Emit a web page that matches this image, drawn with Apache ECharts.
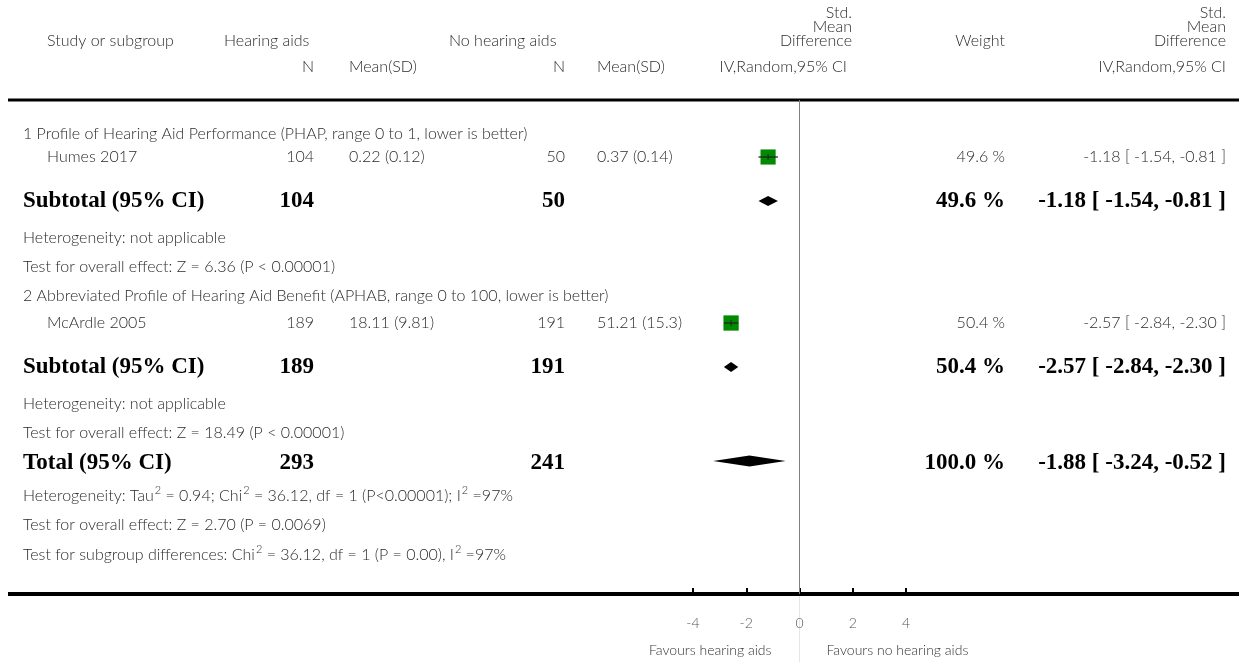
<!DOCTYPE html>
<html>
<head>
<meta charset="utf-8">
<script src="https://cdn.jsdelivr.net/npm/echarts@6/dist/echarts.min.js"></script>
<style>
html,body{margin:0;padding:0;background:#fff;}
#chart{width:1239px;height:662px;}
</style>
</head>
<body>
<div id="chart"></div>
<script>
// ---------------- DATA ----------------
const studies = ['Humes 2017', 'McArdle 2005'];
const subgroups = [
  '1 Profile of Hearing Aid Performance (PHAP, range 0 to 1, lower is better)',
  '2 Abbreviated Profile of Hearing Aid Benefit (APHAB, range 0 to 100, lower is better)'
];
const haN = [104, 189];
const haMeanSD = ['0.22 (0.12)', '18.11 (9.81)'];
const noN = [50, 191];
const noMeanSD = ['0.37 (0.14)', '51.21 (15.3)'];
const smd = [-1.18, -2.57];
const ciLow = [-1.54, -2.84];
const ciHigh = [-0.81, -2.30];
const weights = [49.6, 50.4];
const subSmd = [-1.18, -2.57];
const subLow = [-1.54, -2.84];
const subHigh = [-0.81, -2.30];
const subWeights = [49.6, 50.4];
const totalHaN = 293;
const totalNoN = 241;
const totalSmd = -1.88;
const totalLow = -3.24;
const totalHigh = -0.52;
const totalWeight = 100.0;
const subHetText = ['Heterogeneity: not applicable', 'Heterogeneity: not applicable'];
const subEffectText = ['Test for overall effect: Z = 6.36 (P < 0.00001)', 'Test for overall effect: Z = 18.49 (P < 0.00001)'];
// ^ marks a superscript "2"
const totalHetText = 'Heterogeneity: Tau^ = 0.94; Chi^ = 36.12, df = 1 (P<0.00001); I^ =97%';
const totalEffectText = 'Test for overall effect: Z = 2.70 (P = 0.0069)';
const subgroupDiffText = 'Test for subgroup differences: Chi^ = 36.12, df = 1 (P = 0.00), I^ =97%';
const xTicks = [-4, -2, 0, 2, 4];
const favoursLeft = 'Favours hearing aids';
const favoursRight = 'Favours no hearing aids';

// ---------------- LAYOUT ----------------
const W = 1239, H = 662;
const topLine = 100, axisY = 594;
const plotLeft = 693, plotRight = 906;
const rowsY = {
  g0: 134, s0: 157, sub0: 201, het0: 238, eff0: 267,
  g1: 296, s1: 323, sub1: 367, het1: 404, eff1: 433,
  tot: 463, totHet: 496, totEff: 525, subDiff: 555
};
const NF = 'Lato';
const normFont = '300 16px Lato';
const boldFont = 'bold 23px "Liberation Serif"';
const txtCol = '#2b2b2b';
const col = {group: 23, study: 47, haN: 314, haMean: 349, noN: 565, noMean: 597, weight: 1005, eff: 1226, plotHead: 852};

function fmt2(v){ return (v<0?'-':'') + Math.abs(v).toFixed(2); }
function ciText(m,l,h){ return fmt2(m) + ' [ ' + fmt2(l) + ', ' + fmt2(h) + ' ]'; }

const texts = [];
function T(text, x, y, align, font, fill){
  texts.push({type:'text', x:x, y:y, silent:true, style:{text:text, font:font||normFont, fill:fill||txtCol, align:align||'left', verticalAlign:'middle'}});
}
function TS(text, x, y){
  const parts = text.split('^');
  let rich = '';
  parts.forEach(function(p, i){
    rich += '{n|' + p + '}';
    if (i < parts.length - 1) rich += '{s|2}';
  });
  texts.push({type:'text', x:x, y:y - 2, silent:true, style:{text:rich, align:'left', verticalAlign:'middle',
    rich:{
      n:{fontFamily:NF, fontWeight:300, fontSize:16, fill:txtCol, lineHeight:20, verticalAlign:'bottom'},
      s:{fontFamily:NF, fontWeight:300, fontSize:11, fill:txtCol, lineHeight:20, verticalAlign:'top', padding:[1,0,0,1]}
    }}});
}
// header
T('Study or subgroup', col.study, 41);
T('Hearing aids', 224, 41);
T('No hearing aids', 449, 41);
T('N', col.haN, 67, 'right');
T('Mean(SD)', col.haMean, 67);
T('N', col.noN, 67, 'right');
T('Mean(SD)', col.noMean, 67);
T('Std.', col.plotHead, 13, 'right');
T('Mean', col.plotHead, 27, 'right');
T('Difference', col.plotHead, 41, 'right');
T('IV,Random,95% CI', 847, 67, 'right');
T('Weight', col.weight, 41, 'right');
T('Std.', col.eff, 13, 'right');
T('Mean', col.eff, 27, 'right');
T('Difference', col.eff, 41, 'right');
T('IV,Random,95% CI', col.eff, 67, 'right');

for (let i = 0; i < studies.length; i++) {
  T(subgroups[i], col.group, rowsY['g'+i]);
  const y = rowsY['s'+i];
  T(studies[i], col.study, y);
  T(String(haN[i]), col.haN, y, 'right');
  T(haMeanSD[i], col.haMean, y);
  T(String(noN[i]), col.noN, y, 'right');
  T(noMeanSD[i], col.noMean, y);
  T(weights[i].toFixed(1) + ' %', col.weight, y, 'right');
  T(ciText(smd[i], ciLow[i], ciHigh[i]), col.eff, y, 'right');
  const ys = rowsY['sub'+i];
  T('Subtotal (95% CI)', col.group, ys, 'left', boldFont, '#000');
  T(String(haN[i]), col.haN, ys, 'right', boldFont, '#000');
  T(String(noN[i]), col.noN, ys, 'right', boldFont, '#000');
  T(subWeights[i].toFixed(1) + ' %', col.weight, ys, 'right', boldFont, '#000');
  T(ciText(subSmd[i], subLow[i], subHigh[i]), col.eff, ys, 'right', boldFont, '#000');
  T(subHetText[i], col.group, rowsY['het'+i]);
  T(subEffectText[i], col.group, rowsY['eff'+i]);
}
T('Total (95% CI)', col.group, rowsY.tot, 'left', boldFont, '#000');
T(String(totalHaN), col.haN, rowsY.tot, 'right', boldFont, '#000');
T(String(totalNoN), col.noN, rowsY.tot, 'right', boldFont, '#000');
T(totalWeight.toFixed(1) + ' %', col.weight, rowsY.tot, 'right', boldFont, '#000');
T(ciText(totalSmd, totalLow, totalHigh), col.eff, rowsY.tot, 'right', boldFont, '#000');
TS(totalHetText, col.group, rowsY.totHet);
T(totalEffectText, col.group, rowsY.totEff);
TS(subgroupDiffText, col.group, rowsY.subDiff);

// rules
const rules = [
  {type:'line', silent:true, shape:{x1:8, y1:topLine, x2:W, y2:topLine}, style:{stroke:'#000', lineWidth:3}},
  {type:'line', silent:true, shape:{x1:8, y1:axisY, x2:W, y2:axisY}, style:{stroke:'#000', lineWidth:4}}
];

// series data
const studyData = studies.map((s,i)=>[smd[i], ciLow[i], ciHigh[i], weights[i], rowsY['s'+i]-topLine]);
const diamondData = subSmd.map((m,i)=>[m, subLow[i], subHigh[i], 10, rowsY['sub'+i]-topLine]);
diamondData.push([totalSmd, totalLow, totalHigh, 11, rowsY.tot - 2 - topLine]);

const chart = echarts.init(document.getElementById('chart'), null, {renderer:'canvas'});
chart.setOption({
  animation:false,
  backgroundColor:'#fff',
  grid:{left:plotLeft, right:W-plotRight, top:topLine, bottom:H-axisY, containLabel:false},
  xAxis:{type:'value', position:'bottom', min:-4, max:4, interval:2,
    axisLine:{show:false, onZero:false},
    axisTick:{show:true, inside:true, length:6, lineStyle:{color:'#000', width:2}},
    axisLabel:{show:true, margin:22, color:'#555', fontFamily:NF, fontWeight:300, fontSize:14,
      formatter:function(v){ return xTicks.indexOf(v)>=0 ? String(v) : ''; }},
    splitLine:{show:false}},
  yAxis:{type:'value', inverse:true, min:0, max:axisY-topLine, show:false, splitLine:{show:false}},
  graphic:{elements: rules.concat(texts)},
  series:[
    {type:'custom', name:'studies', data:studyData, clip:false,
      renderItem:function(params, api){
        const yv = api.value(4);
        const m = api.coord([api.value(0), yv]);
        const l = api.coord([api.value(1), yv]);
        const h = api.coord([api.value(2), yv]);
        const s = Math.sqrt(api.value(3)) * 2.15;
        return {type:'group', children:[
          {type:'rect', shape:{x:m[0]-s/2, y:m[1]-s/2, width:s, height:s}, style:{fill:'#008a00'}},
          {type:'line', shape:{x1:l[0], y1:m[1], x2:h[0], y2:m[1]}, style:{stroke:'#222', lineWidth:1.3}},
          {type:'line', shape:{x1:m[0], y1:m[1]-3, x2:m[0], y2:m[1]+3}, style:{stroke:'#222', lineWidth:1}}
        ]};
      },
      markLine:{silent:true, symbol:'none', label:{show:false}, animation:false,
        lineStyle:{color:'#808080', width:1, type:'solid'}, data:[{xAxis:0}]}
    },
    {type:'custom', name:'diamonds', data:diamondData, clip:false,
      renderItem:function(params, api){
        const yv = api.value(4);
        const m = api.coord([api.value(0), yv]);
        const l = api.coord([api.value(1), yv]);
        const h = api.coord([api.value(2), yv]);
        const hh = api.value(3)/2;
        return {type:'polygon', shape:{points:[[l[0],m[1]],[m[0],m[1]-hh],[h[0],m[1]],[m[0],m[1]+hh]]}, style:{fill:'#000'}};
      }
    }
  ]
});
// favours labels and faint zero-line extension, placed from the axis scale
const zx = chart.convertToPixel({xAxisIndex:0}, 0);
chart.setOption({graphic:{elements: rules.concat(texts).concat([
  {type:'line', silent:true, shape:{x1:zx, y1:axisY+2, x2:zx, y2:H}, style:{stroke:'#e6e6e6', lineWidth:1}},
  {type:'text', x:zx-28, y:650, silent:true, style:{text:favoursLeft, font:'300 14px Lato', fill:'#333', align:'right', verticalAlign:'middle'}},
  {type:'text', x:zx+27, y:650, silent:true, style:{text:favoursRight, font:'300 14px Lato', fill:'#333', align:'left', verticalAlign:'middle'}}
])}});
</script>
</body>
</html>
